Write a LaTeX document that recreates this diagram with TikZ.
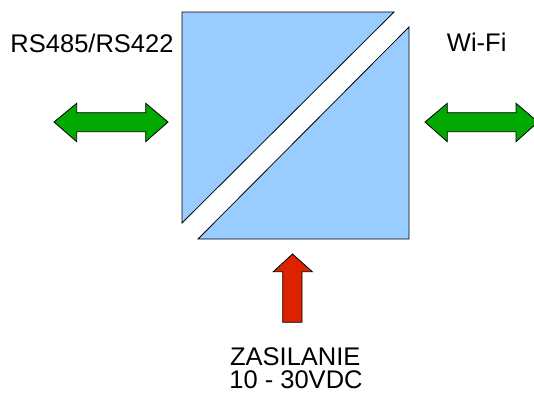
\documentclass[tikz,border=0pt]{standalone}
\usepackage{fontspec}
\setmainfont{Liberation Sans}
\definecolor{boxblue}{HTML}{99CCFF}
\definecolor{arrgreen}{HTML}{00AA00}
\definecolor{arrred}{HTML}{DD2200}
\begin{document}
\begin{tikzpicture}[x=1pt,y=-1pt,
  part/.style={fill=boxblue,draw=black,line width=0.8pt,line join=miter},
  garrow/.style={fill=arrgreen,draw=black,line width=0.8pt},
  rarrow/.style={fill=arrred,draw=black,line width=0.8pt},
  lbl/.style={inner sep=0pt,anchor=base,font=\fontsize{25.5}{28}\selectfont}]
\useasboundingbox (0,0) rectangle (534,394);
\clip (0,0) rectangle (534,394);
% converter halves
\draw[part] (182,12) -- (394,12) -- (182,223) -- cycle;
\draw[part] (198,239) -- (409,239) -- (409,27) -- cycle;
% left double arrow
\draw[garrow] (54,122) -- (76.7,103.3) -- (76.7,112.7) -- (145.7,112.7) -- (145.7,103.3)
  -- (168,122) -- (145.7,141.7) -- (145.7,131.7) -- (76.7,131.7) -- (76.7,141.7) -- cycle;
% right double arrow
\draw[garrow] (425,122) -- (447.3,103.3) -- (447.3,112.7) -- (516,112.7) -- (516,103.3)
  -- (538,122) -- (516,141.7) -- (516,131.7) -- (447.3,131.7) -- (447.3,141.7) -- cycle;
% power arrow
\draw[rarrow] (292.5,254) -- (312.3,271.7) -- (302,271.7) -- (302,322.3) -- (282.7,322.3)
  -- (282.7,271.7) -- (273.3,271.7) -- cycle;
% labels
\node[lbl] (rs) at (92,52.3) {RS485/RS422};
\node[lbl] (wifi) at (476.7,51.7) {Wi-Fi};
\node[lbl] (zas) at (295.3,365.2) {ZASILANIE};
\node[lbl] (volt) at (296,388.8) {10 - 30VDC};
\end{tikzpicture}
\end{document}
